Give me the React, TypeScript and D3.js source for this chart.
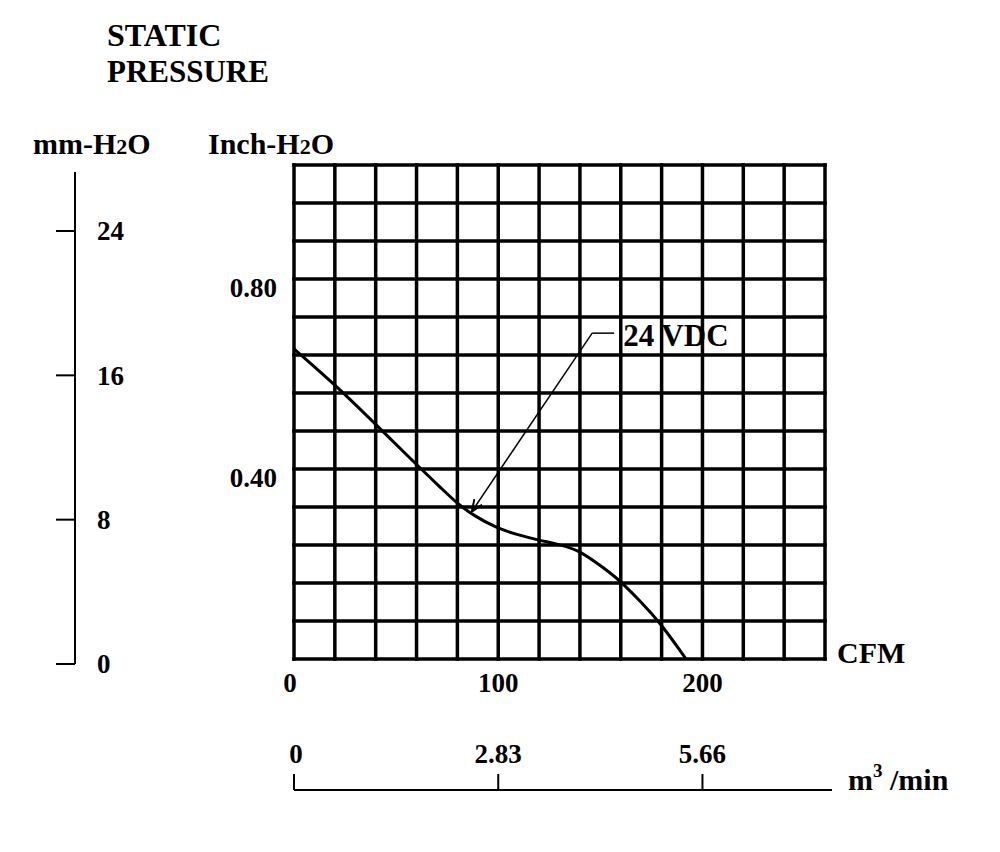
import React from "react";
import * as d3 from "d3";

// fan curve (CFM vs inch-H2O)
const flowCfm = [0, 20, 40, 60, 74, 80, 88, 99, 109, 120, 131, 139, 147, 155, 160, 170, 179, 192];
const pressureIn = [0.653, 0.578, 0.494, 0.409, 0.352, 0.327, 0.302, 0.276, 0.262, 0.25, 0.24, 0.229, 0.206, 0.181, 0.163, 0.12, 0.078, 0];

const cfmTicks = [0, 100, 200];
const inchTicks = [0.4, 0.8];
const mmTicks = [0, 8, 16, 24];
const m3Ticks = [0, 2.83, 5.66];
const m3Labels = ["0", "2.83", "5.66"];

const seriesLabel = "24 VDC";
// annotation anchor (data units): elbow of leader and arrow tip
const labelElbow = { cfm: 146, p: 0.686 };
const labelTip = { cfm: 87, p: 0.31 };

const FONT = "'Liberation Serif', 'Times New Roman', serif";

export default function App() {
  const width = 1000;
  const height = 852;

  const x = d3.scaleLinear().domain([0, 260]).range([294, 825]);
  const y = d3.scaleLinear().domain([0, 1.04]).range([659, 165]);
  const yMm = d3.scaleLinear().domain([0, 24]).range([664, 231]);
  const xM3 = d3.scaleLinear().domain([0, 260 * 0.0283]).range([294, 825]);

  const gridX = d3.range(14).map((i) => i * 20);
  const gridY = d3.range(14).map((i) => i * 0.08);

  const points = flowCfm.map((c, i) => [c, pressureIn[i]] as [number, number]);
  // basis smooths the hand-read points into a clean curve
  const line = d3
    .line<[number, number]>()
    .x((d) => x(d[0]))
    .y((d) => y(d[1]))
    .curve(d3.curveBasis);

  const elbowX = x(labelElbow.cfm);
  const elbowY = y(labelElbow.p);

  return (
    <svg
      width={width}
      height={height}
      viewBox={`0 0 ${width} ${height}`}
      style={{ position: "absolute", left: 0, top: 0, background: "#fff" }}
      fontFamily={FONT}
      fontWeight="bold"
    >
      <defs>
        <marker id="arrow" viewBox="0 0 10 10" refX="10" refY="5" markerWidth="8" markerHeight="8" orient="auto">
          <path d="M0,1 L10,5 L0,9" fill="none" stroke="#000" strokeWidth="1.6" />
        </marker>
      </defs>

      {/* titles */}
      <text x={107} y={46} fontSize={32}>STATIC</text>
      <text x={107} y={82} fontSize={31}>PRESSURE</text>
      <text x={33} y={154} fontSize={30}>
        mm-H<tspan fontSize={22}>2</tspan>O
      </text>
      <text x={208} y={154} fontSize={30}>
        Inch-H<tspan fontSize={22}>2</tspan>O
      </text>

      {/* mm-H2O axis */}
      <line x1={75} x2={75} y1={172} y2={yMm(0)} stroke="#000" strokeWidth={2} />
      {mmTicks.map((t) => (
        <g key={`mm${t}`}>
          <line x1={56} x2={75} y1={yMm(t)} y2={yMm(t)} stroke="#000" strokeWidth={2} />
          <text x={97} y={yMm(t)} dy="0.35em" fontSize={27}>{t}</text>
        </g>
      ))}

      {/* grid */}
      {gridX.map((v) => (
        <line key={`gx${v}`} x1={x(v)} x2={x(v)} y1={y(0) + 1.75} y2={y(1.04) - 1.75} stroke="#000" strokeWidth={3.5} />
      ))}
      {gridY.map((v, i) => (
        <line key={`gy${i}`} x1={x(0) - 1.75} x2={x(260) + 1.75} y1={y(v)} y2={y(v)} stroke="#000" strokeWidth={3.5} />
      ))}

      {/* inch ticks */}
      {inchTicks.map((t) => (
        <text key={`in${t}`} x={277} y={y(t) + 18} textAnchor="end" fontSize={27}>
          {t.toFixed(2)}
        </text>
      ))}

      {/* CFM ticks */}
      {cfmTicks.map((t) => (
        <text key={`cfm${t}`} x={x(t) - (t === 0 ? 4 : 0)} y={692} textAnchor="middle" fontSize={27}>
          {t}
        </text>
      ))}
      <text x={837} y={663} fontSize={30}>CFM</text>

      {/* curve */}
      <path d={line(points) || ""} fill="none" stroke="#000" strokeWidth={3} />

      {/* annotation */}
      <line x1={elbowX} x2={x(labelTip.cfm)} y1={elbowY} y2={y(labelTip.p)} stroke="#000" strokeWidth={1.5} markerEnd="url(#arrow)" />
      <line x1={elbowX} x2={elbowX + 22} y1={elbowY} y2={elbowY} stroke="#000" strokeWidth={1.5} />
      <text x={elbowX + 31} y={elbowY + 13} fontSize={31}>{seriesLabel}</text>

      {/* m3/min axis */}
      <line x1={xM3(0)} x2={832} y1={790} y2={790} stroke="#000" strokeWidth={2} />
      {m3Ticks.map((t, i) => (
        <g key={`m3${t}`}>
          <line x1={xM3(t)} x2={xM3(t)} y1={774} y2={790} stroke="#000" strokeWidth={2} />
          <text x={xM3(t) + (i === 0 ? 2 : 0)} y={763} textAnchor="middle" fontSize={27}>
            {m3Labels[i]}
          </text>
        </g>
      ))}
      <text x={848} y={790} fontSize={30}>
        m<tspan fontSize={19} dy={-13}>3</tspan>
        <tspan dy={13}> /min</tspan>
      </text>
    </svg>
  );
}
